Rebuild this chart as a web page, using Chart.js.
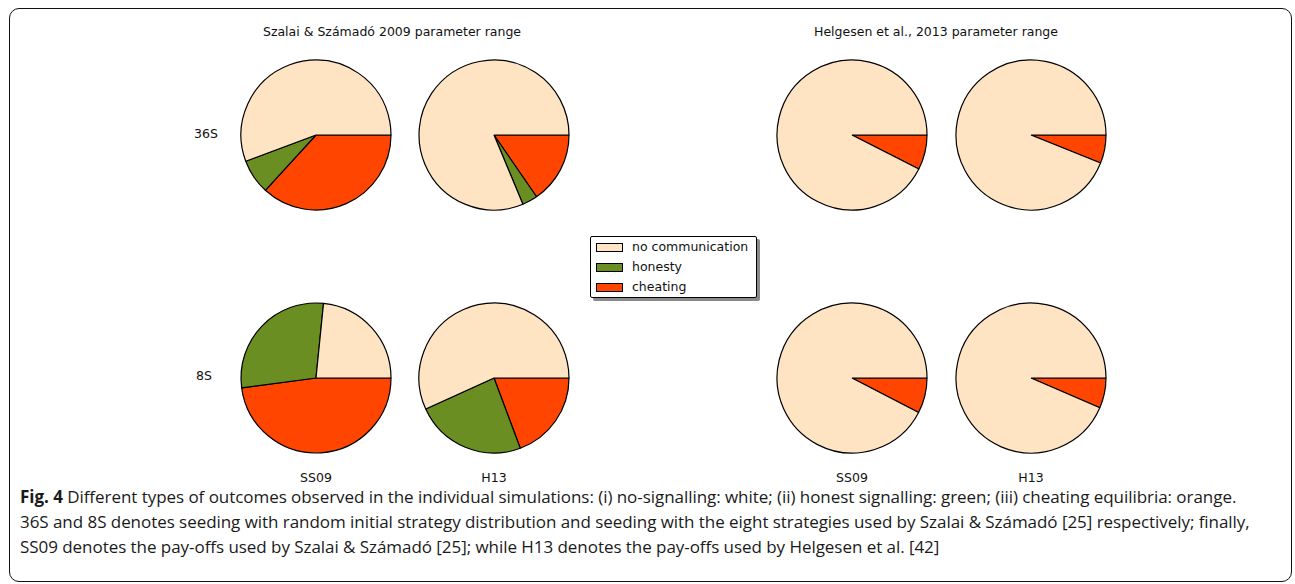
<!DOCTYPE html>
<html>
<head>
<meta charset="utf-8">
<script src="https://cdn.jsdelivr.net/npm/chart.js@4.4.0/dist/chart.umd.min.js"></script>
<style>
  html,body{margin:0;padding:0;background:#fff;}
  body{width:1295px;height:584px;position:relative;overflow:hidden;font-family:"DejaVu Sans",sans-serif;color:#111;}
  .frame{position:absolute;left:9px;top:8px;width:1281px;height:572px;border:1.5px solid #111;border-radius:10px;}
  .pie{position:absolute;width:160px;height:160px;}
  .lbl{position:absolute;font-size:12.5px;white-space:nowrap;transform:translate(-50%,-50%);}
  .legend{position:absolute;left:590px;top:236px;width:165px;height:60px;border:1px solid #000;border-radius:2px;background:#fff;box-shadow:3px 3px 0 #8a8a8a;}
  .legend .row{position:absolute;left:5px;height:20px;font-size:12.5px;line-height:20px;}
  .legend .sw{position:absolute;left:0;top:6px;width:25px;height:7px;border:1px solid #000;}
  .legend .tx{position:absolute;left:36px;top:0;white-space:nowrap;}
  .caption{position:absolute;left:20px;top:484px;font-family:"Open Sans",sans-serif;font-size:17px;line-height:25px;color:#1a1a1a;white-space:nowrap;letter-spacing:-0.05px;}
  .caption b{font-weight:bold;}
</style>
</head>
<body>
<div class="frame"></div>

<script>
// categories in matplotlib order (counter-clockwise from 3 o'clock)
const categories = ['no communication','honesty','cheating'];
const catColors = ['#FFE4C4','#6B8E23','#FF4500'];

// panels: row 36S then 8S, columns SS09/H13 for each parameter range
const rowLabels = ['36S','8S'];
const colLabels = ['SS09','H13','SS09','H13'];
const rangeTitles = ['Szalai & Számadó 2009 parameter range','Helgesen et al., 2013 parameter range'];

// shares in percent, one entry per panel (36S x4, then 8S x4)
const noComm   = [55.7, 81.3, 92.5, 93.9, 23.4, 56.8, 92.4, 93.5];
const honesty  = [ 7.5,  3.3,  0.0,  0.0, 28.7, 23.9,  0.0,  0.0];
const cheating = [36.8, 15.4,  7.5,  6.1, 47.9, 19.3,  7.6,  6.5];

const colX = [316, 494, 852, 1031];
const rowY = [135, 378];

function addText(txt, x, y){
  const d = document.createElement('div');
  d.className = 'lbl';
  d.style.left = x+'px'; d.style.top = y+'px';
  d.textContent = txt;
  document.body.appendChild(d);
}

addText(rangeTitles[0], 392, 31);
addText(rangeTitles[1], 936, 31);
addText(rowLabels[0], 206, 133);
addText(rowLabels[1], 204, 375);
colLabels.forEach((c,i)=>addText(c, colX[i], 477));

for(let k=0;k<8;k++){
  const r = Math.floor(k/4), c = k%4;
  const wrap = document.createElement('div');
  wrap.className = 'pie';
  wrap.style.left = (colX[c]-80)+'px';
  wrap.style.top = (rowY[r]-80)+'px';
  const cv = document.createElement('canvas');
  cv.width = 160; cv.height = 160;
  wrap.appendChild(cv);
  document.body.appendChild(wrap);
  // Chart.js draws clockwise, so feed slices reversed starting at 3 o'clock
  new Chart(cv.getContext('2d'),{
    type:'pie',
    data:{
      labels: categories.slice().reverse(),
      datasets:[{
        data:[cheating[k], honesty[k], noComm[k]],
        backgroundColor: catColors.slice().reverse(),
        borderColor:'#000',
        borderWidth:1.2
      }]
    },
    options:{
      responsive:false,
      animation:false,
      rotation:90,
      radius:75,
      layout:{padding:0},
      plugins:{legend:{display:false},tooltip:{enabled:false}}
    }
  });
}

// legend
const lg = document.createElement('div');
lg.className = 'legend';
categories.forEach((name,i)=>{
  const row = document.createElement('div');
  row.className = 'row';
  row.style.top = (i*20)+'px';
  row.innerHTML = `<div class="sw" style="background:${catColors[i]}"></div><div class="tx">${name}</div>`;
  lg.appendChild(row);
});
document.body.appendChild(lg);
</script>

<div class="caption"><b>Fig. 4</b> Different types of outcomes observed in the individual simulations: (i) no-signalling: white; (ii) honest signalling: green; (iii) cheating equilibria: orange.<br>36S and 8S denotes seeding with random initial strategy distribution and seeding with the eight strategies used by Szalai &amp; Számadó [25] respectively; finally,<br>SS09 denotes the pay-offs used by Szalai &amp; Számadó [25]; while H13 denotes the pay-offs used by Helgesen et al. [42]</div>
</body>
</html>
